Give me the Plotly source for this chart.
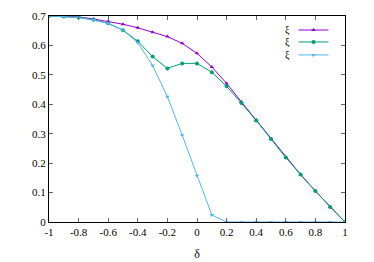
import plotly.graph_objects as go

delta = [-1.0, -0.9, -0.8, -0.7, -0.6, -0.5, -0.4, -0.3, -0.2, -0.1, 0.0,
         0.1, 0.2, 0.3, 0.4, 0.5, 0.6, 0.7, 0.8, 0.9, 1.0]
xi_a = [0.700, 0.699, 0.697, 0.690, 0.682, 0.672, 0.660, 0.645, 0.630, 0.607, 0.573,
        0.527, 0.471, 0.408, 0.346, 0.283, 0.219, 0.161, 0.105, 0.051, 0.0]
xi_b = [0.700, 0.698, 0.695, 0.687, 0.675, 0.652, 0.614, 0.562, 0.522, 0.539, 0.539,
        0.509, 0.461, 0.404, 0.345, 0.282, 0.219, 0.161, 0.105, 0.051, 0.0]
xi_c = [0.700, 0.698, 0.695, 0.686, 0.675, 0.652, 0.609, 0.532, 0.426, 0.295, 0.157,
        0.024, 0.0, 0.0, 0.0, 0.0, 0.0, 0.0, 0.0, 0.0, 0.0]
labels = ["ξ", "ξ", "ξ"]
colors = ["#9400d3", "#009e73", "#56b4e9"]
symbols = ["triangle-up", "circle", "triangle-down"]

xticks = [-1, -0.8, -0.6, -0.4, -0.2, 0, 0.2, 0.4, 0.6, 0.8, 1]
yticks = [0, 0.1, 0.2, 0.3, 0.4, 0.5, 0.6, 0.7]

font = "Liberation Serif"
legend_rows = [0.932, 0.874, 0.811]
legend_ids = ["legend", "legend2", "legend3"]

fig = go.Figure()
for ys, c, s, lid in zip([xi_a, xi_b, xi_c], colors, symbols, legend_ids):
    fig.add_trace(go.Scatter(x=delta, y=ys, mode="lines+markers", name=" ",
                             legend=lid,
                             line=dict(color=c, width=1),
                             marker=dict(color=c, symbol=s, size=4)))

for lab, yr in zip(labels, legend_rows):
    fig.add_annotation(text=lab, xref="paper", yref="paper", x=0.82, y=yr,
                       showarrow=False, xanchor="right", yanchor="middle",
                       font=dict(family=font, size=10, color="#000"))

axis_common = dict(showline=True, linecolor="#000", linewidth=1, mirror="allticks",
                   ticks="inside", ticklen=4, tickcolor="#666", showgrid=False,
                   zeroline=False, tickfont=dict(family=font, size=11, color="#000"))

leg = dict(x=0.826, xanchor="left", yanchor="middle", bgcolor="rgba(0,0,0,0)",
           font=dict(family=font, size=10), itemwidth=30)

fig.update_layout(
    width=366, height=254,
    margin=dict(l=41, r=29, t=8, b=40, autoexpand=False),
    paper_bgcolor="white", plot_bgcolor="white",
    font=dict(family=font),
    xaxis=dict(range=[-1, 1], tickvals=xticks, ticktext=[f"{v:g}" for v in xticks],
               title=dict(text="δ", font=dict(family=font, size=12, color="#000"), standoff=12),
               **axis_common),
    yaxis=dict(range=[0, 0.7], tickvals=yticks, ticktext=[f"{v:g}" for v in yticks],
               **axis_common),
    showlegend=True,
    legend=dict(y=legend_rows[0], **leg),
    legend2=dict(y=legend_rows[1], **leg),
    legend3=dict(y=legend_rows[2], **leg),
)

fig.write_html("out.html")
